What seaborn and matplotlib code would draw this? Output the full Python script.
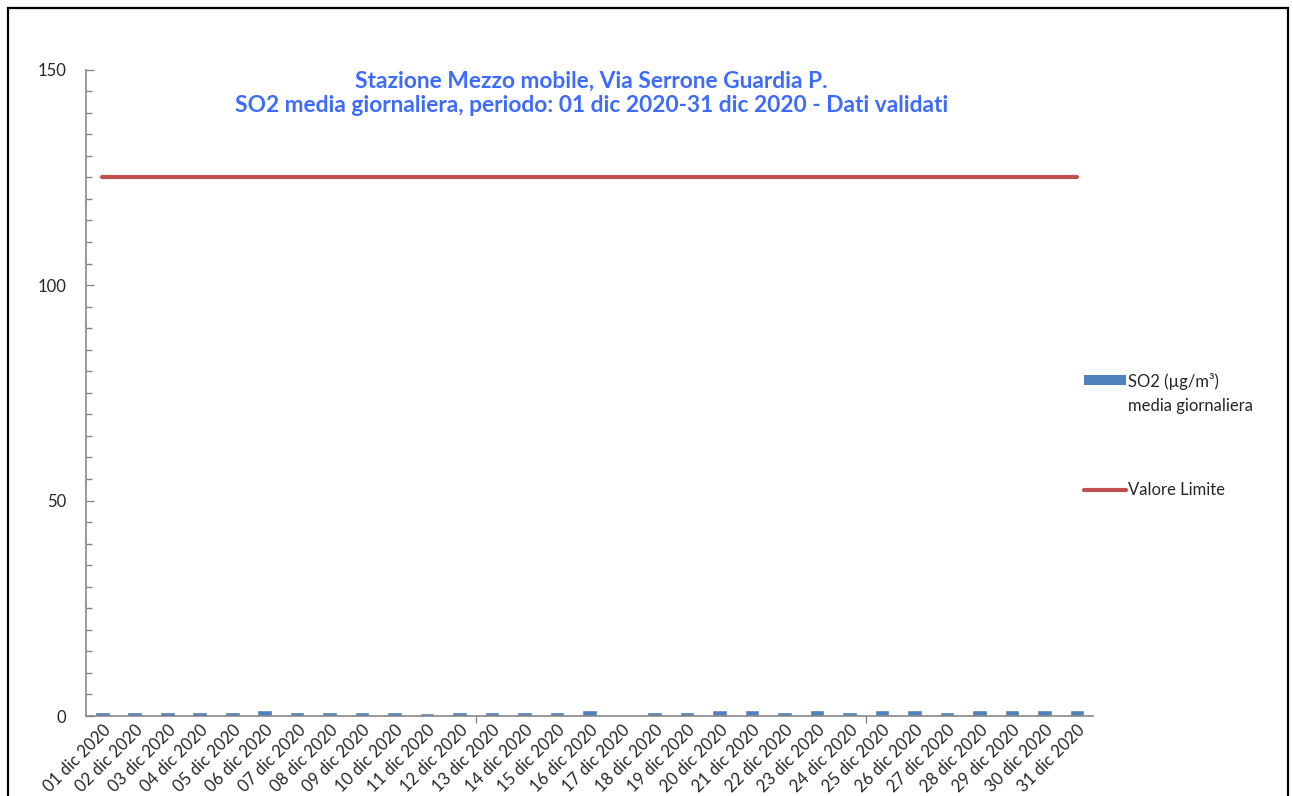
import numpy as np
import pandas as pd
import seaborn as sns
import matplotlib.pyplot as plt
from matplotlib.patches import Patch, Rectangle
from matplotlib.lines import Line2D
from matplotlib.legend_handler import HandlerPatch
from matplotlib.ticker import MultipleLocator, FixedLocator

# dati giornalieri SO2 (dicembre 2020)
giorni = ['%02d dic 2020' % d for d in range(1, 32)]
so2 = [1.0, 1.0, 1.0, 1.0, 1.0, 1.3, 1.0, 1.0, 1.0, 1.0,
       0.6, 1.0, 1.0, 1.0, 1.0, 1.3, np.nan, 1.0, 1.0, 1.3,
       1.3, 1.0, 1.3, 1.0, 1.3, 1.3, 1.0, 1.3, 1.3, 1.3, 1.3]
limite = [125] * 31
titolo = ('Stazione Mezzo mobile, Via Serrone Guardia P.\n'
          'SO2 media giornaliera, periodo: 01 dic 2020-31 dic 2020 - Dati validati')

sns.set_style('white')
plt.rcParams['font.family'] = ['Lato', 'DejaVu Sans']

df = pd.DataFrame({'giorno': giorni, 'so2': so2})

fig = plt.figure(figsize=(12.93, 7.96), dpi=100)
ax = fig.add_axes([0.0665, 0.1005, 0.779, 0.812])

sns.barplot(data=df, x='giorno', y='so2', order=giorni, color='#4F81BD',
            saturation=1, width=0.45, ax=ax)
ax.plot(range(len(giorni)), limite, color='#C0504D', lw=3)

ax.set_xlim(-0.5, len(giorni) - 0.5)
ax.set_ylim(0, 150)
ax.yaxis.set_major_locator(MultipleLocator(50))
ax.yaxis.set_minor_locator(MultipleLocator(5))
ax.tick_params(axis='y', which='major', direction='in', length=6, width=1,
               color='#868686', left=True, pad=14, labelsize=12)
ax.tick_params(axis='y', which='minor', direction='in', length=4, width=1,
               color='#868686', left=True)
ax.xaxis.set_minor_locator(FixedLocator([11.5, 23.5]))
ax.tick_params(axis='x', which='major', length=0, pad=4, labelsize=12)
ax.tick_params(axis='x', which='minor', direction='out', length=5, width=1,
               color='#868686', bottom=True)
plt.setp(ax.get_xticklabels(), rotation=45, ha='right', rotation_mode='anchor')

for s in ['top', 'right']:
    ax.spines[s].set_visible(False)
for s in ['left', 'bottom']:
    ax.spines[s].set_color('#868686')
    ax.spines[s].set_linewidth(1.2)
ax.set_xlabel('')
ax.set_ylabel('')

ax.text(0.502, 0.998, titolo, transform=ax.transAxes, ha='center', va='top',
        color='#3D6BFF', fontsize=16.4, fontweight='bold', linespacing=1.2)


# patch della legenda allineata alla prima riga del testo
def patch_alto(legend, orig_handle, xdescent, ydescent, width, height, fontsize):
    return Rectangle((-xdescent, -ydescent + 0.85 * fontsize), width, height)


handles = [Patch(facecolor='#4F81BD', edgecolor='none'),
           Line2D([], [], color='#C0504D', lw=3)]
leg = fig.legend(handles, ['SO2 (µg/m³)\nmedia giornaliera', 'Valore Limite'],
                 loc='upper left', bbox_to_anchor=(0.827, 0.55), frameon=False,
                 fontsize=12, handlelength=2.5, handleheight=0.6,
                 handletextpad=0.1, labelspacing=4.1,
                 handler_map={Patch: HandlerPatch(patch_func=patch_alto)})
for t in leg.get_texts():
    t.set_linespacing(1.6)

fig.add_artist(Rectangle((8 / 1293, -0.05), 1280 / 1293, 1 - 8 / 796 + 0.05,
                         transform=fig.transFigure, fill=False,
                         edgecolor='black', lw=1.6, clip_on=False))

fig.savefig('out.png', dpi=100)
